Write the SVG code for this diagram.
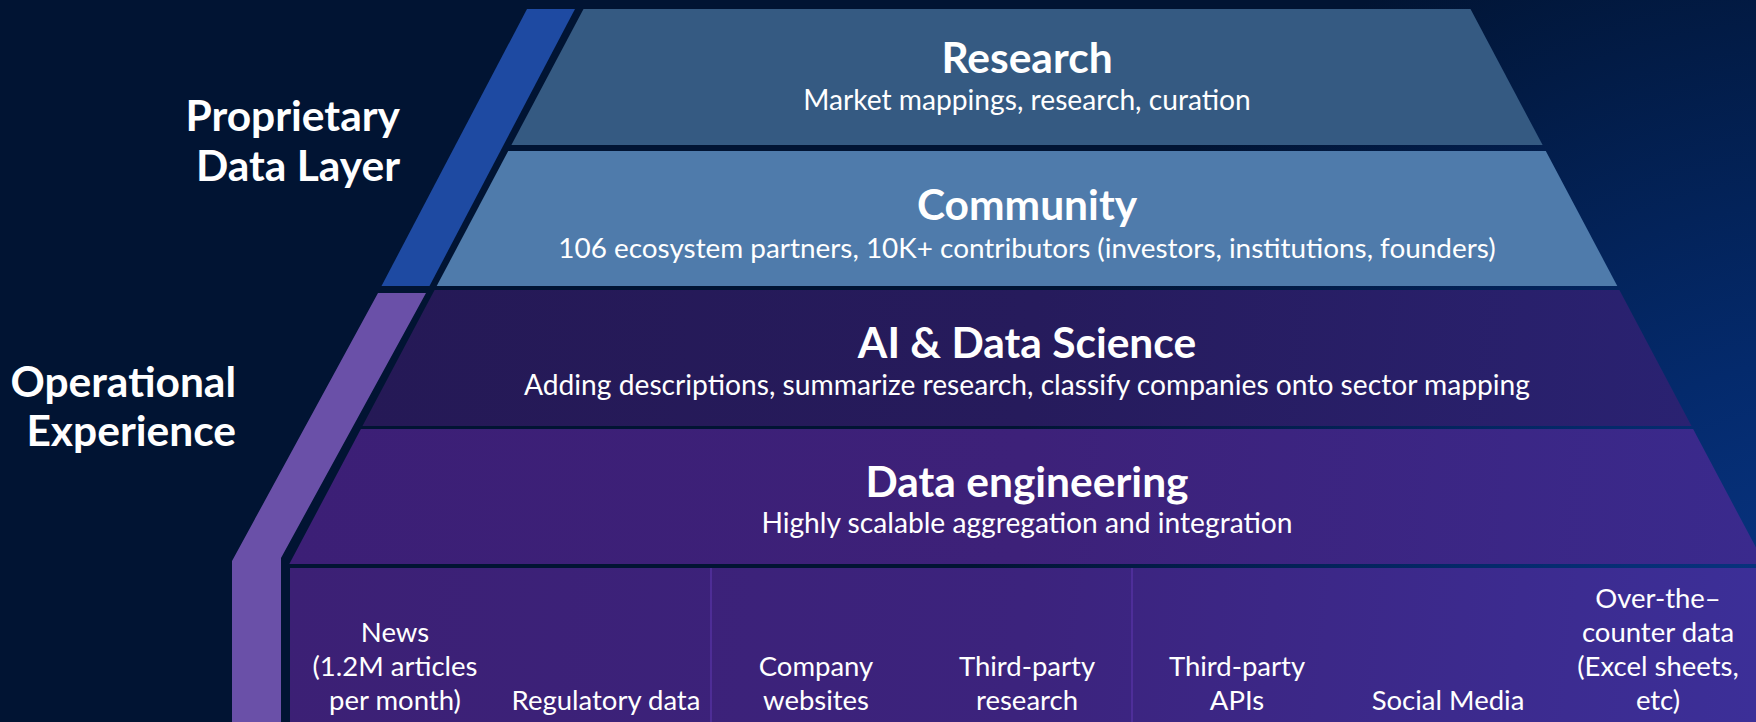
<svg xmlns="http://www.w3.org/2000/svg" width="1756" height="722" viewBox="0 0 1756 722">
  <defs>
    <radialGradient id="bg" cx="1850" cy="760" r="900" gradientUnits="userSpaceOnUse">
      <stop offset="0" stop-color="#0b3b90"/>
      <stop offset="0.45" stop-color="#042a6c"/>
      <stop offset="1" stop-color="#011433"/>
    </radialGradient>
    <linearGradient id="gAI" x1="360" y1="290" x2="1700" y2="426" gradientUnits="userSpaceOnUse">
      <stop offset="0" stop-color="#251956"/>
      <stop offset="0.5" stop-color="#261b5c"/>
      <stop offset="1" stop-color="#2a2272"/>
    </linearGradient>
    <linearGradient id="gDE" x1="290" y1="429" x2="1760" y2="564" gradientUnits="userSpaceOnUse">
      <stop offset="0" stop-color="#3c1f76"/>
      <stop offset="0.5" stop-color="#3d2179"/>
      <stop offset="1" stop-color="#3a2a8d"/>
    </linearGradient>
    <linearGradient id="gSrc" x1="290" y1="568" x2="1756" y2="722" gradientUnits="userSpaceOnUse">
      <stop offset="0" stop-color="#3c2075"/>
      <stop offset="0.5" stop-color="#3c237d"/>
      <stop offset="1" stop-color="#3c2f98"/>
    </linearGradient>
    <style>
      text { font-family: Lato, "Noto Sans", "Liberation Sans", sans-serif; fill: #ffffff; }
      .title { font-size: 42.5px; font-weight: 700; text-anchor: middle; }
      .sub { font-size: 28.2px; font-weight: 400; text-anchor: middle; }
      .sub2 { font-size: 27.9px; }
      .side { font-size: 42.5px; font-weight: 700; text-anchor: end; }
      .src { font-size: 27.5px; font-weight: 400; text-anchor: middle; }
      .divider { stroke: #5b36aa; stroke-width: 1.2; }
    </style>
  </defs>

  <rect id="background" x="0" y="0" width="1756" height="722" fill="url(#bg)"/>

  <g id="proprietary-band">
    <polygon points="527,9 575,9 429.5,286 381.5,286" fill="#1e4aa2"/>
    <text class="side" x="400" y="131">Proprietary</text>
    <text class="side" x="400" y="181">Data Layer</text>
  </g>

  <g id="operational-band">
    <polygon points="378,293 426,293 281,558 281,722 232,722 232,561" fill="#6a50a8"/>
    <text class="side" x="236" y="397">Operational</text>
    <text class="side" x="236" y="446">Experience</text>
  </g>

  <g id="research">
    <polygon points="583.5,9 1470.5,9 1542.6,145 511.4,145" fill="#355a82"/>
    <text class="title" x="1027" y="73">Research</text>
    <text class="sub" x="1027" y="110">Market mappings, research, curation</text>
  </g>

  <g id="community">
    <polygon points="508.2,151 1545.8,151 1617.3,286 436.7,286" fill="#4f7bab"/>
    <text class="title" x="1027" y="220">Community</text>
    <text class="sub sub2" x="1027" y="258">106 ecosystem partners, 10K+ contributors (investors, institutions, founders)</text>
  </g>

  <g id="ai-data-science">
    <polygon points="434.6,290 1619.4,290 1691.5,426 362.5,426" fill="url(#gAI)"/>
    <text class="title" x="1027" y="358">AI &amp; Data Science</text>
    <text class="sub" x="1027" y="395">Adding descriptions, summarize research, classify companies onto sector mapping</text>
  </g>

  <g id="data-engineering">
    <polygon points="360.9,429 1693.1,429 1764.7,564 289.3,564" fill="url(#gDE)"/>
    <text class="title" x="1027" y="497">Data engineering</text>
    <text class="sub" x="1027" y="533">Highly scalable aggregation and integration</text>
  </g>

  <g id="data-sources">
    <rect x="290" y="568" width="1466" height="154" fill="url(#gSrc)"/>
    <line class="divider" x1="711" y1="568" x2="711" y2="722"/>
    <line class="divider" x1="1132" y1="568" x2="1132" y2="722"/>
  </g>

  <g id="src-news">
    <text class="src" x="395" y="642">News</text>
    <text class="src" x="395" y="676">(1.2M articles</text>
    <text class="src" x="395" y="710">per month)</text>
  </g>
  <g id="src-regulatory">
    <text class="src" x="606" y="710">Regulatory data</text>
  </g>
  <g id="src-company">
    <text class="src" x="816" y="676">Company</text>
    <text class="src" x="816" y="710">websites</text>
  </g>
  <g id="src-third-party-research">
    <text class="src" x="1027" y="676">Third-party</text>
    <text class="src" x="1027" y="710">research</text>
  </g>
  <g id="src-third-party-apis">
    <text class="src" x="1237" y="676">Third-party</text>
    <text class="src" x="1237" y="710">APIs</text>
  </g>
  <g id="src-social">
    <text class="src" x="1448" y="710">Social Media</text>
  </g>
  <g id="src-otc">
    <text class="src" x="1658" y="608">Over-the–</text>
    <text class="src" x="1658" y="642">counter data</text>
    <text class="src" x="1658" y="676">(Excel sheets,</text>
    <text class="src" x="1658" y="710">etc)</text>
  </g>

  <g id="connectors"/>
</svg>
